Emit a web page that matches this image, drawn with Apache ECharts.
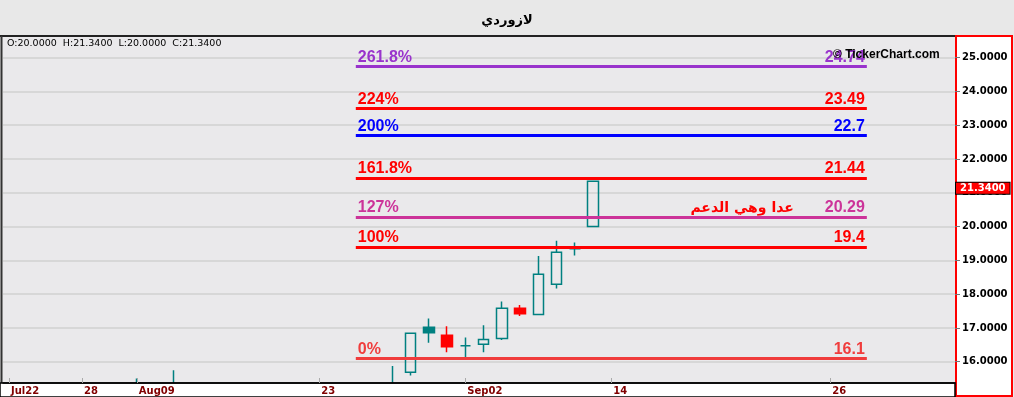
<!DOCTYPE html>
<html><head><meta charset="utf-8">
<script src="https://cdn.jsdelivr.net/npm/echarts@6/dist/echarts.min.js"></script>
<style>html,body{margin:0;padding:0;background:#e8e8e8}#c{width:1014px;height:397px}</style>
</head><body><div id="c"></div>
<script>
// ---- data ----
const categories = ['Jul22','Jul23','Jul26','Jul27','Jul28','Jul29','Jul30','Aug09','Aug10','Aug11','Aug12','Aug13','Aug16','Aug17','Aug18','Aug19','Aug20','Aug23','Aug24','Aug25','Aug26','Aug27','Aug30','Aug31','Sep01','Sep02','Sep03','Sep06','Sep07','Sep08','Sep09','Sep10','Sep13','Sep14','Sep15','Sep16','Sep17','Sep18','Sep19','Sep20','Sep21','Sep22','Sep23','Sep24','Sep25','Sep26','Sep27','Sep28','Sep29','Sep30','Oct01','Oct02'];
const openV  = [15.10,15.04,15.00,15.06,15.02,14.98,15.00,15.10,15.16,15.20,15.24,15.18,15.12,15.08,15.10,15.06,15.02,15.00,14.96,15.00,15.04,15.10,15.69,17.02,16.78,16.47,16.52,16.69,17.58,17.40,18.29,19.34,20.00];
const closeV = [15.04,15.00,15.06,15.02,14.98,15.00,15.10,15.16,15.20,15.24,15.18,15.12,15.08,15.10,15.06,15.02,15.00,14.96,15.00,15.04,15.10,15.30,16.84,16.86,16.44,16.47,16.66,17.58,17.42,18.59,19.24,19.34,21.34];
const lowV   = [14.98,14.96,14.94,14.98,14.92,14.92,14.96,15.02,15.10,15.12,15.10,15.06,15.02,15.02,15.00,14.98,14.94,14.90,14.92,14.96,15.00,15.06,15.59,16.56,16.28,16.14,16.28,16.64,17.35,17.40,18.17,19.14,20.00];
const highV  = [15.16,15.10,15.12,15.10,15.06,15.05,15.18,15.50,15.30,15.75,15.28,15.22,15.16,15.14,15.14,15.10,15.06,15.04,15.06,15.10,15.16,15.87,16.84,17.28,17.05,16.72,17.08,17.78,17.68,19.13,19.58,19.53,21.34];
const fibPct = ['0%','100%','127%','161.8%','200%','224%','261.8%'];
const fibVal = [16.1,19.4,20.29,21.44,22.7,23.49,24.74];
const fibStart = 'Aug25', fibEnd = 'Sep28';
const tickDates = ['Jul22','Jul28','Aug09','Aug23','Sep02','Sep14','Sep26'];
const tickText  = ['Jul22','28','Aug09','23','Sep02','14','26'];
const yTicks = [16,17,18,19,20,21,22,23,24,25];
const noteText = 'عدا وهي الدعم', noteDate = 'Sep24', noteValue = 20.55;
const titleText = 'لازوردي';

// ---- build ----
const fibColors = ['#f03c3c','#ff0000','#cc3399','#ff0000','#0000ff','#ff0000','#9933cc'];
const TEAL = '#008080', RED = '#ff0000', NONE = 'rgba(0,0,0,0)';
const idx = d => categories.indexOf(d);
const tickIdx = tickDates.map(idx);
const candles = openV.map((o, i) => {
  const c = closeV[i], pc = i > 0 ? closeV[i-1] : c;
  const col = c >= pc ? TEAL : RED;
  const fill = c < o ? col : NONE;
  return {value: [i, o, c, lowV[i], highV[i]],
    itemStyle: {color: fill, color0: fill, borderColor: col, borderColor0: col, borderColorDoji: col}};
});
const last = openV.length - 1;
const info = 'O:' + openV[last].toFixed(4) + '  H:' + highV[last].toFixed(4) + '  L:' + lowV[last].toFixed(4) + '  C:' + closeV[last].toFixed(4);
const fs = idx(fibStart), fe = idx(fibEnd);
const lblFont = {fontFamily: 'Liberation Sans, Arial', fontWeight: 'bold', fontSize: 16};
const hidden = {color: NONE, width: 0};
const marks = [];
fibVal.forEach((v, k) => {
  marks.push([{coord: [fs, v], lineStyle: {color: fibColors[k], width: 3, type: 'solid'},
    label: Object.assign({show: true, position: 'insideStartTop', formatter: fibPct[k], color: fibColors[k], distance: [2, 1]}, lblFont)}, {coord: [fe, v]}]);
  marks.push([{coord: [fs, v], lineStyle: hidden,
    label: Object.assign({show: true, position: 'insideEndTop', formatter: String(v), color: fibColors[k], distance: [2, 1]}, lblFont)}, {coord: [fe, v]}]);
});
marks.push({yAxis: closeV[last], lineStyle: hidden,
  label: {show: true, position: 'end', formatter: closeV[last].toFixed(4), color: '#fff', backgroundColor: '#ff0000', borderColor: '#000', borderWidth: 1,
    padding: [1, 4, 0, 4], fontFamily: 'DejaVu Sans', fontWeight: 'bold', fontSize: 10, distance: 1, offset: [0, 7]}});

const chart = echarts.init(document.getElementById('c'), null, {renderer: 'canvas'});
chart.setOption({
  animation: false,
  backgroundColor: '#e8e8e8',
  title: {text: titleText, left: 'center', top: 9, textStyle: {fontFamily: 'DejaVu Sans', fontWeight: 'bold', fontSize: 13, color: '#000'}},
  graphic: [
    {type: 'rect', z: -5, shape: {x: 956, y: 36, width: 56, height: 360}, style: {fill: '#fff', stroke: '#ff0000', lineWidth: 2}},
    {type: 'rect', z: 55, shape: {x: 0, y: 383, width: 955, height: 14}, style: {fill: '#fff', stroke: '#000', lineWidth: 1.5}},
    {type: 'line', z: 50, shape: {x1: 0, y1: 36, x2: 955, y2: 36}, style: {stroke: '#222', lineWidth: 2}},
    {type: 'line', z: 50, shape: {x1: 1.5, y1: 36, x2: 1.5, y2: 396}, style: {stroke: '#333', lineWidth: 2}},
    {type: 'text', z: 50, left: 7, top: 39, style: {text: info, fill: '#000', font: '9.5px DejaVu Sans'}},
    {type: 'text', z: 50, left: 833, top: 49, style: {text: '© TickerChart.com', fill: '#000', font: 'bold 12px Liberation Sans'}}
  ],
  grid: {left: 3, right: 59, top: 36, bottom: 14, show: true, backgroundColor: '#eae9eb', borderWidth: 0},
  xAxis: {type: 'value', min: -0.33, max: 51.83, z: 60, splitLine: {show: false},
    axisLine: {show: true, onZero: false, lineStyle: {color: '#000', width: 1.5}},
    axisTick: {show: true, inside: true, length: 5, customValues: tickIdx, lineStyle: {color: '#aaa', width: 1}},
    axisLabel: {show: true, customValues: tickIdx, formatter: v => tickText[tickIdx.indexOf(Math.round(v))] || '', align: 'left', padding: [0, 0, 0, 2], margin: 3,
      color: '#800000', fontFamily: 'DejaVu Sans', fontWeight: 'bold', fontSize: 10}},
  yAxis: {type: 'value', position: 'right', min: 15.37, max: 25.64, scale: true,
      axisLine: {show: false, onZero: false},
      axisTick: {show: true, length: 5, customValues: yTicks, lineStyle: {color: '#777'}},
      axisLabel: {show: true, customValues: yTicks, formatter: v => v.toFixed(4), margin: 7, color: '#000', fontFamily: 'DejaVu Sans', fontWeight: 'bold', fontSize: 10},
      splitLine: {show: true, lineStyle: {color: '#d0d0d0', width: 1.5}}},
  series: [{
    type: 'candlestick', clip: false, barWidth: 11, encode: {x: 0, y: [1, 2, 3, 4]},
    itemStyle: {borderWidth: 1.5},
    data: candles,
    markLine: {silent: true, symbol: 'none', animation: false, data: marks},
    markPoint: {silent: true, symbolSize: 0, data: [{coord: [idx(noteDate), noteValue],
      label: {show: true, position: 'inside', formatter: noteText, align: 'right', verticalAlign: 'middle', color: '#ff0000', fontFamily: 'DejaVu Sans', fontWeight: 'bold', fontSize: 14}}]}
  }]
});
</script></body></html>
